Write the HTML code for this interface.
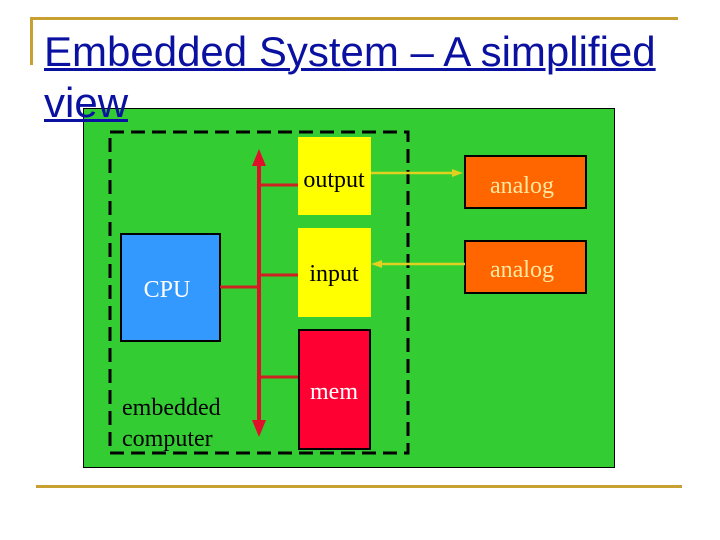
<!DOCTYPE html>
<html><head><style>
body{margin:0;width:720px;height:540px;background:#fff;overflow:hidden;position:relative;font-family:"Liberation Serif",serif}
.t{position:absolute;left:44px;top:26px;font-family:"Liberation Sans",sans-serif;font-size:42px;line-height:51px;color:#0a10a0;text-decoration:underline;text-decoration-thickness:3px;z-index:2;width:680px;white-space:nowrap}
</style></head><body>
<div style="position:absolute;left:30px;top:17px;width:648px;height:3px;background:#c8a032"></div>
<div style="position:absolute;left:30px;top:17px;width:3px;height:48px;background:#c8a032"></div>
<div style="position:absolute;left:36px;top:485px;width:646px;height:3px;background:#c8a032"></div>
<div class="t">Embedded System – A simplified<br>view</div>
<svg width="720" height="540" style="position:absolute;left:0;top:0">
<rect x="83.5" y="108.5" width="531" height="359" fill="#33cc33" stroke="#000"/>
<rect x="110" y="132" width="298" height="321" fill="none" stroke="#000" stroke-width="3" stroke-dasharray="14,7"/>
<rect x="298" y="137" width="73" height="78" fill="#ffff00"/>
<rect x="298" y="228" width="73" height="89" fill="#ffff00"/>
<rect x="299" y="330" width="71" height="119" fill="#ff0033" stroke="#000" stroke-width="2"/>
<rect x="121" y="234" width="99" height="107" fill="#3399ff" stroke="#000" stroke-width="2"/>
<rect x="465" y="156" width="121" height="52" fill="#ff6600" stroke="#000" stroke-width="2"/>
<rect x="465" y="241" width="121" height="52" fill="#ff6600" stroke="#000" stroke-width="2"/>
<g stroke="#cc2222" stroke-width="3">
<line x1="260" y1="185" x2="298" y2="185"/>
<line x1="260" y1="275" x2="298" y2="275"/>
<line x1="220" y1="287" x2="259" y2="287"/>
<line x1="260" y1="377" x2="298" y2="377"/>
</g>
<line x1="259" y1="160" x2="259" y2="428" stroke="#e0102a" stroke-width="4"/>
<polygon points="259,149 252,166 266,166" fill="#e0102a"/>
<polygon points="259,437 252,420 266,420" fill="#e0102a"/>
<g stroke="#e0d020" stroke-width="2.5">
<line x1="371" y1="173" x2="455" y2="173"/>
<line x1="380" y1="264" x2="465" y2="264"/>
</g>
<polygon points="463,173 452,169 452,177" fill="#e0d020"/>
<polygon points="371,264 382,260 382,268" fill="#e0d020"/>
<g font-size="24" font-family="Liberation Serif,serif">
<text x="334" y="187" text-anchor="middle">output</text>
<text x="334" y="281" text-anchor="middle">input</text>
<text x="334" y="399" text-anchor="middle" fill="#fff">mem</text>
<text x="167" y="297" text-anchor="middle" fill="#fff">CPU</text>
<text x="522" y="193" text-anchor="middle" fill="#ffe9a0">analog</text>
<text x="522" y="277" text-anchor="middle" fill="#ffe9a0">analog</text>
<text x="122" y="415">embedded</text>
<text x="122" y="446">computer</text>
</g>
</svg>
</body></html>
